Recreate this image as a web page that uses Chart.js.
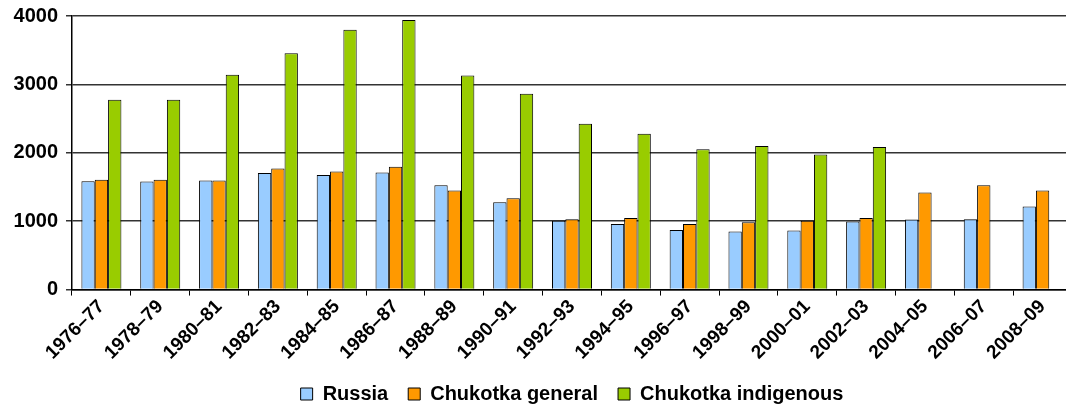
<!DOCTYPE html>
<html>
<head>
<meta charset="utf-8">
<script src="https://cdn.jsdelivr.net/npm/chart.js@4"></script>
<style>
  html, body { margin: 0; padding: 0; background: #fff; overflow: hidden; }
  #wrap { width: 1072px; height: 408px; }
</style>
</head>
<body>
<div id="wrap"><canvas id="births"></canvas></div>
<script>
// seasons on the x axis
const seasons = [
  "1976–77", "1978–79", "1980–81", "1982–83", "1984–85", "1986–87",
  "1988–89", "1990–91", "1992–93", "1994–95", "1996–97", "1998–99",
  "2000–01", "2002–03", "2004–05", "2006–07", "2008–09",
];

const russia = [
  1585, 1580, 1595, 1705, 1675, 1710, 1525, 1275, 1005, 960, 870, 850,
  865, 995, 1025, 1030, 1215,
];
const chukotkaGeneral = [
  1605, 1605, 1595, 1770, 1725, 1795, 1450, 1335, 1030, 1045, 960, 985,
  1005, 1045, 1420, 1525, 1450,
];
const chukotkaIndigenous = [
  2775, 2775, 3140, 3455, 3800, 3940, 3130, 2865, 2425, 2280, 2050, 2100,
  1975, 2085, null, null, null,
];

const yTicks = [0, 1000, 2000, 3000, 4000];

const FONT = "'Liberation Sans', Arial, sans-serif";

new Chart(document.getElementById("births"), {
  type: "bar",
  data: {
    labels: seasons,
    datasets: [
      {
        label: "Russia",
        data: russia,
        backgroundColor: "#99ccff",
        borderColor: "#000",
        borderWidth: 1,
      },
      {
        label: "Chukotka general",
        data: chukotkaGeneral,
        backgroundColor: "#ff9900",
        borderColor: "#000",
        borderWidth: 1,
      },
      {
        label: "Chukotka indigenous",
        data: chukotkaIndigenous,
        backgroundColor: "#99cc00",
        borderColor: "#000",
        borderWidth: 1,
      },
    ],
  },
  options: {
    responsive: true,
    maintainAspectRatio: false,
    animation: false,
    // pull the legend down a bit
    layout: { padding: { top: 0, right: 0, left: 0, bottom: -6 } },
    datasets: {
      bar: { categoryPercentage: 0.68, barPercentage: 1.0 },
    },
    plugins: {
      tooltip: { enabled: false },
      legend: {
        position: "bottom",
        fullSize: false,
        labels: {
          boxWidth: 12,
          boxHeight: 12,
          padding: 20,
          color: "#000",
          font: { family: FONT, size: 20, weight: "bold" },
        },
      },
    },
    scales: {
      x: {
        offset: true,
        grid: {
          offset: true,
          drawOnChartArea: false,
          drawTicks: true,
          tickLength: 6,
          color: "#000",
        },
        border: { color: "#000", width: 1.5 },
        ticks: {
          color: "#000",
          maxRotation: 45,
          minRotation: 45,
          autoSkip: false,
          padding: 0,
          font: { family: FONT, size: 19, weight: "bold" },
        },
      },
      y: {
        min: 0,
        max: 4000,
        afterBuildTicks: (axis) => {
          axis.ticks = yTicks.map((v) => ({ value: v }));
        },
        afterFit: (axis) => {
          axis.width = 72;
          axis.paddingTop = 16;
        },
        grid: {
          color: "#333",
          lineWidth: 1.5,
          drawTicks: true,
          tickLength: 6,
        },
        border: { color: "#000", width: 1.5 },
        ticks: {
          color: "#000",
          padding: 8,
          callback: (v) => String(v),
          font: { family: FONT, size: 20, weight: "bold" },
        },
      },
    },
  },
});
</script>
</body>
</html>
